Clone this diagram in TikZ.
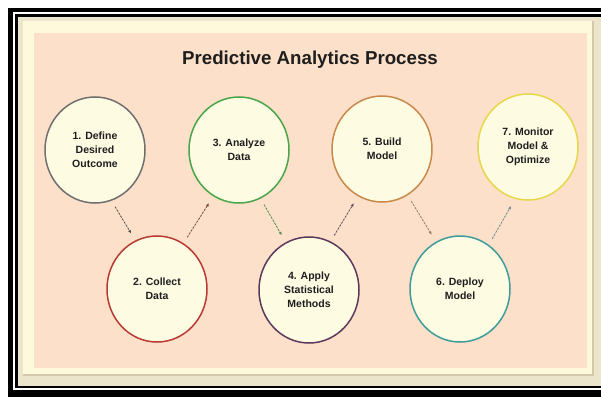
\documentclass[tikz,border=0pt]{standalone}
\usepackage{fontspec}
\setmainfont{Liberation Sans}
\usetikzlibrary{shapes.geometric,arrows.meta}
\definecolor{peach}{HTML}{FCE0C9}
\definecolor{cream}{HTML}{FDF9DA}
\definecolor{bevel}{HTML}{EAE5CB}
\definecolor{tanline}{HTML}{D3C9AA}
\definecolor{discfill}{HTML}{FEFBE3}
\definecolor{txt}{HTML}{1E1E1E}
\definecolor{cA}{HTML}{707070}
\definecolor{cB}{HTML}{B83A32}
\definecolor{cC}{HTML}{4AA54A}
\definecolor{cD}{HTML}{5B3A5E}
\definecolor{cE}{HTML}{C8894A}
\definecolor{cF}{HTML}{3F9C9A}
\definecolor{cG}{HTML}{E6D84A}
\definecolor{aA}{HTML}{505050}
\definecolor{aB}{HTML}{7A4A40}
\definecolor{aC}{HTML}{4A8A4A}
\definecolor{aD}{HTML}{5A4A5A}
\definecolor{aE}{HTML}{9A7A60}
\definecolor{aF}{HTML}{6A8A8A}
\tikzset{
  stage/.style={ellipse, fill=discfill, line width=1.5pt, minimum width=100pt,
    minimum height=106pt, inner sep=0pt, align=center, text=txt,
    font=\bfseries\fontsize{10.5}{14}\selectfont},
  flow/.style={dashed, dash pattern=on 2pt off 1.5pt, line width=0.8pt,
    -{Latex[length=3.5pt,width=3pt]}, shorten <=7pt, shorten >=8pt}
}
\begin{document}
\begin{tikzpicture}[x=1pt,y=-1pt]
\useasboundingbox (0,0) rectangle (601,403);
\fill[white] (0,0) rectangle (601,403);
\fill[black] (8,8) rectangle (601,397);
\fill[white] (13,12) rectangle (601,390);
\fill[black] (15,14) rectangle (601,388);
\fill[bevel] (18,17) rectangle (601,386);
\fill[tanline] (23,21) rectangle (594,376);
\fill[cream] (23,21) rectangle (592,374);
\fill[peach] (34,33) rectangle (587,368);

\node[anchor=base, text=txt, font=\bfseries\fontsize{18.7}{22}\selectfont] (title) at (310,65) {Predictive Analytics Process};

\node[stage, draw=cA] (s1) at (95,150) {1. Define\\Desired\\Outcome};
\node[stage, draw=cB] (s2) at (157,289) {2. Collect\\Data};
\node[stage, draw=cC] (s3) at (239,150) {3. Analyze\\Data};
\node[stage, draw=cD] (s4) at (309,290) {4. Apply\\Statistical\\Methods};
\node[stage, draw=cE] (s5) at (382,149) {5. Build\\Model};
\node[stage, draw=cF] (s6) at (460,289) {6. Deploy\\Model};
\node[stage, draw=cG] (s7) at (528,147) {7. Monitor\\Model \&\\Optimize};

\draw[flow, draw=aA, fill=aA] (s1.-72) -- (s2.114);
\draw[flow, draw=aB, fill=aB] (s2.60) -- (s3.-119);
\draw[flow, draw=aC, fill=aC] (s3.-66) -- (s4.116);
\draw[flow, draw=aD, fill=aD] (s4.66) -- (s5.-117);
\draw[flow, draw=aE, fill=aE] (s5.-61) -- (s6.117);
\draw[flow, draw=aF, fill=aF] (s6.57) -- (s7.-104);
\end{tikzpicture}
\end{document}
